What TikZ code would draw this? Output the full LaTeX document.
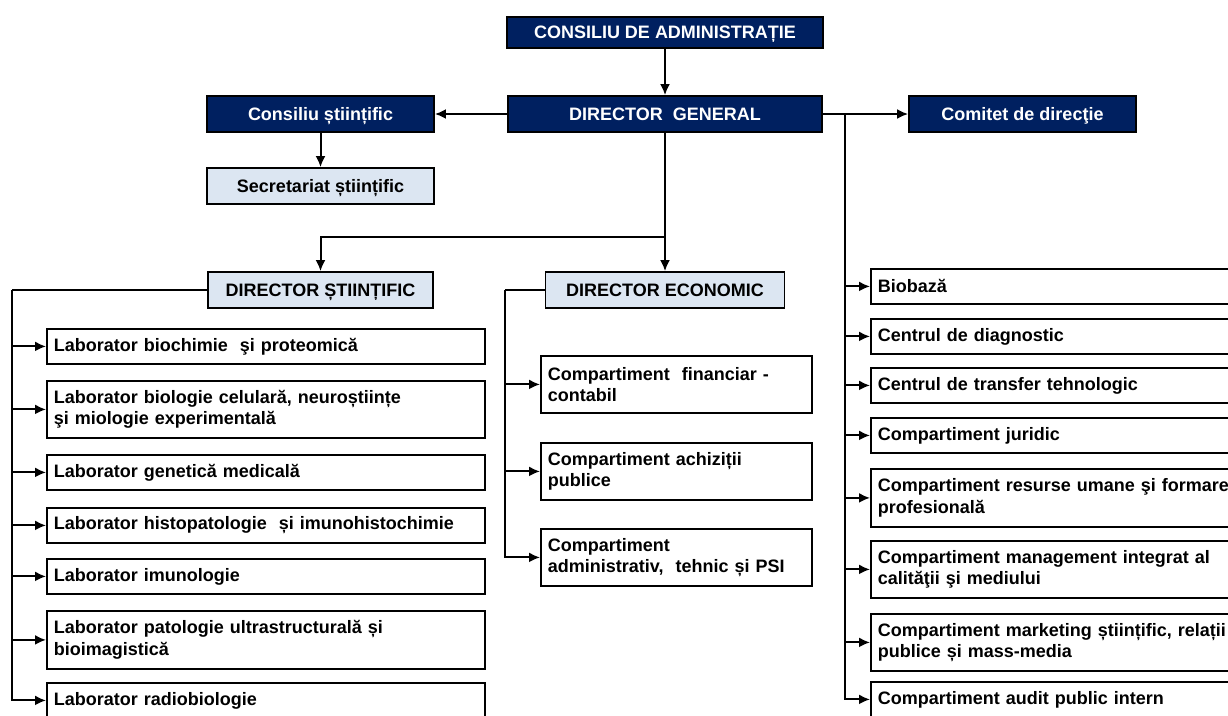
\documentclass[tikz,border=0pt]{standalone}
\usepackage{fontspec}
\setmainfont{Liberation Sans}
\usetikzlibrary{arrows.meta}
\definecolor{navy}{RGB}{0,32,96}
\definecolor{paleblue}{RGB}{220,230,242}
\tikzset{
  every node/.style={font=\bfseries\fontsize{18}{21.5}\selectfont},
  headbox/.style={draw=black, line width=1.8pt, fill=navy, text=white, inner sep=0pt,
    text height=12.5pt, text depth=0pt},
  subbox/.style={draw=black, line width=1.8pt, fill=paleblue, inner sep=0pt,
    text height=12.5pt, text depth=0pt},
  unitbox/.style={draw=black, line width=1.8pt, fill=white, anchor=north west,
    align=left, inner xsep=7pt, inner ysep=0pt, minimum height=35pt},
  link/.style={line width=2pt},
  arr/.style={link, -{Latex[length=11pt,width=10pt]}}
}

\begin{document}
\begin{tikzpicture}[x=1pt,y=-1pt]
  \clip (0,0) rectangle (1228,715);

  % top of the chart
  \node[headbox, minimum width=316, minimum height=31] (ca) at (665,32.5) {CONSILIU DE ADMINISTRAȚIE};
  \node[headbox, minimum width=314, minimum height=36] (dg) at (665,114) {DIRECTOR\ \ GENERAL};
  \node[headbox, minimum width=227, minimum height=36] (cs) at (320.5,114) {Consiliu științific};
  \node[subbox, minimum width=227, minimum height=36] (sec) at (320.5,186) {Secretariat științific};
  \node[headbox, minimum width=227, minimum height=36] (cd) at (1022.5,114) {Comitet de direcţie};
  \node[subbox, minimum width=225, minimum height=36] (ds) at (320.5,290) {DIRECTOR ȘTIINȚIFIC};
  \node[subbox, minimum width=239, minimum height=36] (de) at (665,290) {DIRECTOR ECONOMIC};

  \draw[arr] (ca) -- (dg);
  \draw[arr] (dg) -- (cs);
  \draw[arr] (cs) -- (sec);
  \draw[arr] (dg.east) -- (cd.west |- dg.east);

  \coordinate (jn) at (665,237);
  \draw[link] (dg) -- (jn);
  \draw[arr] (jn) -| (ds.north);
  \draw[arr] (jn) -- (de);

  % laboratories
  \node[unitbox, text width=424pt] (l1) at (46,328) {Laborator biochimie\ \ şi proteomică};
  \node[unitbox, text width=424pt, minimum height=57pt] (l2) at (46,380) {Laborator biologie celulară, neuroștiințe\\şi miologie experimentală};
  \node[unitbox, text width=424pt] (l3) at (46,454) {Laborator genetică medicală};
  \node[unitbox, text width=424pt] (l4) at (46,507) {Laborator histopatologie\ \ și imunohistochimie};
  \node[unitbox, text width=424pt] (l5) at (46,558) {Laborator imunologie};
  \node[unitbox, text width=424pt, minimum height=58pt] (l6) at (46,610) {Laborator patologie ultrastructurală și\\bioimagistică};
  \node[unitbox, text width=424pt] (l7) at (46,682) {Laborator radiobiologie};

  \coordinate (lb) at (12,290);
  \draw[link] (ds) -- (lb);
  \draw[arr] (lb) |- (l7.west);
  \foreach \i in {1,...,6}
    \draw[arr] (lb |- l\i.west) -- (l\i.west);

  % economic side
  \node[unitbox, text width=257pt, minimum height=57pt] (m1) at (540,355) {Compartiment\ \ financiar -\\contabil};
  \node[unitbox, text width=257pt, minimum height=57pt] (m2) at (540,442) {Compartiment achiziții\\publice};
  \node[unitbox, text width=257pt, minimum height=57pt] (m3) at (540,528) {Compartiment\\administrativ,\ \ tehnic și PSI};

  \coordinate (mb) at (505,290);
  \draw[link] (de) -- (mb);
  \draw[arr] (mb) |- (m3.west);
  \foreach \i in {1,2}
    \draw[arr] (mb |- m\i.west) -- (m\i.west);

  % units under the general director
  \node[unitbox, text width=366pt] (r1) at (870,268) {Biobază};
  \node[unitbox, text width=366pt] (r2) at (870,318) {Centrul de diagnostic};
  \node[unitbox, text width=366pt] (r3) at (870,367) {Centrul de transfer tehnologic};
  \node[unitbox, text width=366pt] (r4) at (870,417) {Compartiment juridic};
  \node[unitbox, text width=366pt, minimum height=58pt] (r5) at (870,468) {Compartiment resurse umane şi formare\\profesională};
  \node[unitbox, text width=366pt, minimum height=57pt] (r6) at (870,540) {Compartiment management integrat al\\calităţii şi mediului};
  \node[unitbox, text width=366pt, minimum height=57pt] (r7) at (870,613) {Compartiment marketing științific, relații\\publice și mass-media};
  \node[unitbox, text width=366pt] (r8) at (870,681) {Compartiment audit public intern};

  \coordinate (rb) at (845,114);
  \draw[arr] (rb) |- (r8.west);
  \foreach \i in {1,...,7}
    \draw[arr] (rb |- r\i.west) -- (r\i.west);
\end{tikzpicture}
\end{document}
